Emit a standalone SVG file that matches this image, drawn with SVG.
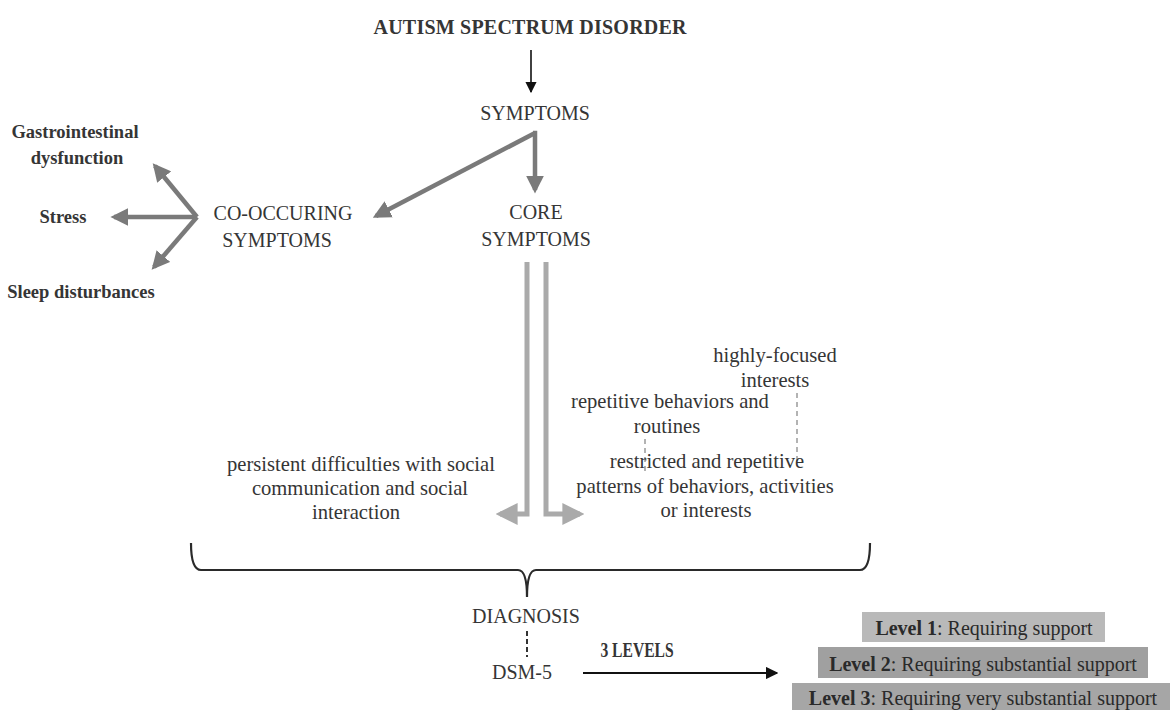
<svg xmlns="http://www.w3.org/2000/svg" width="1172" height="710" viewBox="0 0 1172 710">
<defs>
<style>
text{font-family:"Liberation Serif","Times New Roman",serif;fill:#353535;}
.t{font-size:20px;text-anchor:middle;}
.s{font-size:20.6px;text-anchor:middle;}
.b{font-weight:bold;}
.l{font-size:18.5px;font-weight:bold;text-anchor:middle;}
.lv{font-size:20px;text-anchor:middle;fill:#2a2a2a;}
.g{stroke:#7a7a7a;stroke-width:4.5;fill:none;}
.lg{stroke:#aaaaaa;stroke-width:5;fill:none;}
.dash{stroke:#9a9a9a;stroke-width:1.5;stroke-dasharray:5 4;fill:none;}
</style>
<marker id="ga" viewBox="0 0 10 10" refX="8" refY="5" markerWidth="4" markerHeight="4" orient="auto" markerUnits="strokeWidth"><path d="M0,0 L10,5 L0,10 z" fill="#7a7a7a"/></marker>
<marker id="la" viewBox="0 0 10 10" refX="8" refY="5" markerWidth="4.4" markerHeight="4.4" orient="auto" markerUnits="strokeWidth"><path d="M0,0 L10,5 L0,10 z" fill="#aaaaaa"/></marker>
<marker id="ba" viewBox="0 0 10 10" refX="9" refY="5" markerWidth="7" markerHeight="7" orient="auto" markerUnits="strokeWidth"><path d="M0,0 L10,5 L0,10 z" fill="#111"/></marker>
</defs>
<rect width="1172" height="710" fill="#ffffff"/>

<g id="connectors">
<line x1="531" y1="50" x2="531" y2="92" stroke="#111" stroke-width="1.6" marker-end="url(#ba)"/>
<polyline class="g" points="533,133 535,133 535,190" marker-end="url(#ga)"/>
<line class="g" x1="535" y1="133" x2="376" y2="216" marker-end="url(#ga)"/>
<line class="g" x1="197" y1="217" x2="155" y2="166" marker-end="url(#ga)"/>
<line class="g" x1="197" y1="217" x2="114" y2="217" marker-end="url(#ga)"/>
<line class="g" x1="197" y1="217" x2="154" y2="267" marker-end="url(#ga)"/>
<polyline class="lg" points="527,262 527,514 500,514" marker-end="url(#la)"/>
<polyline class="lg" points="546,262 546,514 580,514" marker-end="url(#la)"/>
<line class="dash" x1="645" y1="439" x2="645" y2="475"/>
<line class="dash" x1="797" y1="393" x2="797" y2="465"/>
<path d="M191,543 Q191,570 201,570 L518,570 Q527,570 527,597 Q527,570 536,570 L860,570 Q870,570 870,543" fill="none" stroke="#2a2a2a" stroke-width="2.2"/>
<line x1="527" y1="631" x2="527" y2="657" stroke="#333" stroke-width="2" stroke-dasharray="5 3"/>
<line x1="583" y1="673" x2="777" y2="673" stroke="#111" stroke-width="1.8" marker-end="url(#ba)"/>
</g>

<g id="asd"><text class="t b" x="530" y="34" font-size="19" textLength="313">AUTISM SPECTRUM DISORDER</text></g>
<g id="symptoms"><text class="t" x="535" y="120">SYMPTOMS</text></g>
<g id="cooccurring"><text class="t" x="283" y="220">CO-OCCURING</text><text class="t" x="277" y="247">SYMPTOMS</text></g>
<g id="core"><text class="t" x="536" y="219">CORE</text><text class="t" x="536" y="246">SYMPTOMS</text></g>
<g id="gastro"><text class="l" x="75" y="138">Gastrointestinal</text><text class="l" x="77" y="164">dysfunction</text></g>
<g id="stress"><text class="l" x="63" y="223">Stress</text></g>
<g id="sleep"><text class="l" x="81" y="298">Sleep disturbances</text></g>
<g id="social"><text class="s" x="361" y="471">persistent difficulties with social</text><text class="s" x="360" y="495">communication and social</text><text class="s" x="356" y="519">interaction</text></g>
<g id="restricted"><text class="s" x="707" y="468">restricted and repetitive</text><text class="s" x="705" y="493">patterns of behaviors, activities</text><text class="s" x="706" y="517">or interests</text></g>
<g id="repetitive"><text class="s" x="670" y="408">repetitive behaviors and</text><text class="s" x="667" y="433">routines</text></g>
<g id="focused"><text class="s" x="775" y="362">highly-focused</text><text class="s" x="775" y="387">interests</text></g>
<g id="diagnosis"><text class="t" x="526" y="623">DIAGNOSIS</text></g>
<g id="dsm"><text class="t" x="522" y="679">DSM-5</text></g>
<g id="levels"><text class="t b" x="0" y="0" font-size="15.5" transform="translate(637,657) scale(0.78,1)">3 LEVELS</text></g>
<g id="level1"><rect x="862" y="612" width="243" height="30" fill="#b9b9b9"/><text class="lv" x="984" y="635"><tspan font-weight="bold">Level 1</tspan>: Requiring support</text></g>
<g id="level2"><rect x="818" y="647" width="330" height="31" fill="#a0a0a0"/><text class="lv" x="983" y="671"><tspan font-weight="bold">Level 2</tspan>: Requiring substantial support</text></g>
<g id="level3"><rect x="792" y="683" width="378" height="27" fill="#a6a6a6"/><text class="lv" x="983" y="705"><tspan font-weight="bold">Level 3</tspan>: Requiring very substantial support</text></g>
</svg>
